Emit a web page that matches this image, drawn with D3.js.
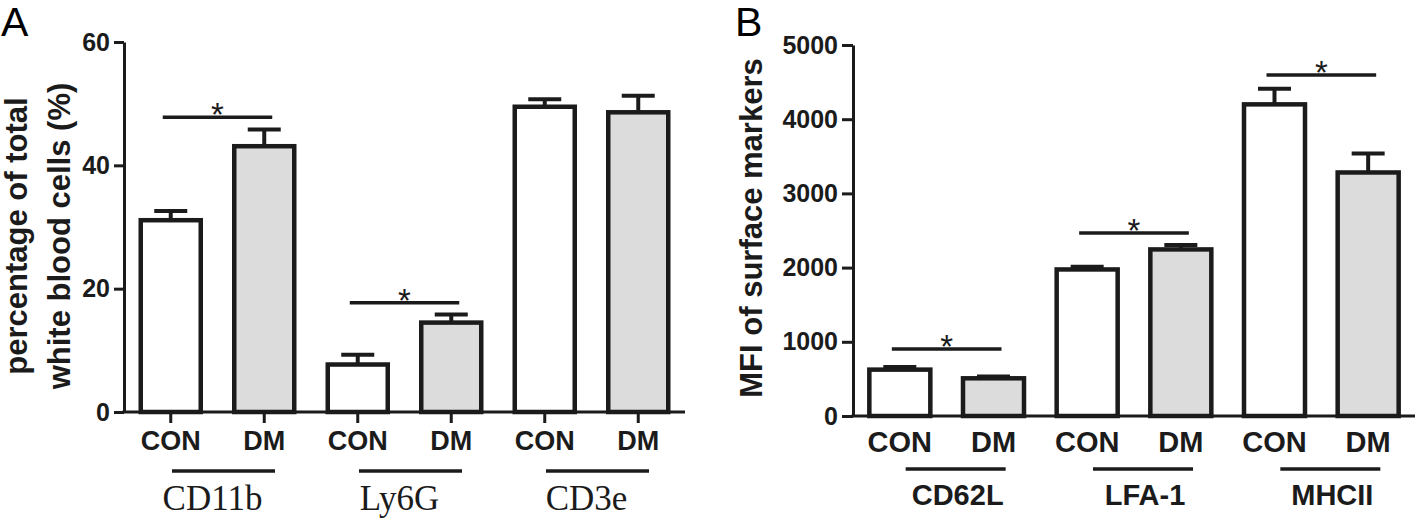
<!DOCTYPE html>
<html>
<head>
<meta charset="utf-8">
<script src="https://cdn.jsdelivr.net/npm/d3@7"></script>
<style>
  html, body { margin: 0; padding: 0; background: #ffffff; }
  svg { display: block; }
</style>
</head>
<body>
<svg id="chart" width="1418" height="520"></svg>
<script>
// ---------- DATA ----------
const conditions = ["CON", "DM"];

// Panel A: percentage of total white blood cells (%)
const groupsA = ["CD11b", "Ly6G", "CD3e"];
const conA = [31.1, 7.7, 49.5];
const conAErr = [1.5, 1.6, 1.2];
const dmA = [43.1, 14.5, 48.6];
const dmAErr = [2.7, 1.3, 2.7];
const ticksA = [0, 20, 40, 60];
const sigA = [ { group: "CD11b", y: 47.8 }, { group: "Ly6G", y: 17.7 } ];

// Panel B: MFI of surface markers
const groupsB = ["CD62L", "LFA-1", "MHCII"];
const conB = [625, 1975, 4200];
const conBErr = [35, 35, 210];
const dmB = [508, 2245, 3282];
const dmBErr = [25, 60, 256];
const ticksB = [0, 1000, 2000, 3000, 4000, 5000];
const sigB = [ { group: "CD62L", y: 903 }, { group: "LFA-1", y: 2466 }, { group: "MHCII", y: 4596 } ];

// ---------- DRAWING ----------
const svg = d3.select("#chart");
const ink = "#1b1b1b";
const sans = "'Liberation Sans', Arial, sans-serif";
const serif = "'Liberation Serif', 'Times New Roman', serif";

function panel(opt) {
  const g = svg.append("g");
  const y = d3.scaleLinear().domain(opt.yDomain).range([opt.y0, opt.yTop]);
  const gx = d3.scaleBand().domain(opt.groups).range([opt.x0, opt.x1]).paddingInner(0).paddingOuter(0);
  const cx = d3.scaleBand().domain(conditions).range([0, gx.bandwidth()]).paddingInner(0.358).paddingOuter(0.179);
  const center = (grp, c) => gx(grp) + cx(c) + cx.bandwidth() / 2;

  const rows = [];
  opt.groups.forEach((grp, i) => {
    rows.push({ grp, c: "CON", v: opt.con[i], e: opt.conErr[i] });
    rows.push({ grp, c: "DM", v: opt.dm[i], e: opt.dmErr[i] });
  });

  // error bars
  const eb = g.append("g").attr("stroke", ink).attr("stroke-width", 4).attr("fill", "none");
  rows.forEach(r => {
    const x = center(r.grp, r.c);
    eb.append("line").attr("x1", x).attr("x2", x).attr("y1", y(r.v)).attr("y2", y(r.v + r.e));
    eb.append("line").attr("x1", x - 16.5).attr("x2", x + 16.5).attr("y1", y(r.v + r.e)).attr("y2", y(r.v + r.e));
  });

  // bars
  g.append("g").selectAll("rect").data(rows).join("rect")
    .attr("x", d => center(d.grp, d.c) - opt.barW / 2)
    .attr("y", d => y(d.v))
    .attr("width", opt.barW)
    .attr("height", d => y(0) - y(d.v))
    .attr("fill", d => d.c === "DM" ? "#dcdcdc" : "#ffffff")
    .attr("stroke", ink)
    .attr("stroke-width", 4.5);

  // y axis
  const ya = g.append("g").attr("transform", `translate(${opt.x0},0)`)
    .call(d3.axisLeft(y).tickValues(opt.ticks).tickSize(opt.tickLen).tickSizeOuter(0).tickPadding(4).tickFormat(d3.format("d")));
  ya.select(".domain").attr("stroke", ink).attr("stroke-width", 3);
  ya.selectAll(".tick line").attr("stroke", ink).attr("stroke-width", 3);
  ya.selectAll(".tick text").attr("fill", ink).style("font-family", sans).style("font-weight", "bold").style("font-size", "25px");

  // x axis line
  g.append("line").attr("x1", opt.x0 - 1.5).attr("x2", opt.x1).attr("y1", y(0)).attr("y2", y(0))
    .attr("stroke", ink).attr("stroke-width", 3);

  // x ticks (panel A only)
  if (opt.xTicks) {
    g.append("g").selectAll("line").data(rows).join("line")
      .attr("x1", d => center(d.grp, d.c)).attr("x2", d => center(d.grp, d.c))
      .attr("y1", y(0)).attr("y2", y(0) + 11)
      .attr("stroke", ink).attr("stroke-width", 3);
  }

  // condition labels
  g.append("g").selectAll("text").data(rows).join("text")
    .attr("x", d => center(d.grp, d.c)).attr("y", opt.condY)
    .attr("text-anchor", "middle")
    .attr("fill", ink)
    .style("font-family", sans).style("font-weight", "bold").style("font-size", opt.condSize + "px")
    .text(d => d.c);

  // group underlines and labels
  opt.groups.forEach(grp => {
    const mid = gx(grp) + gx.bandwidth() / 2;
    g.append("line").attr("x1", mid + opt.ulShift - opt.ulW / 2).attr("x2", mid + opt.ulShift + opt.ulW / 2)
      .attr("y1", opt.ulY).attr("y2", opt.ulY).attr("stroke", ink).attr("stroke-width", 3.5);
    g.append("text").attr("x", mid + opt.glShift).attr("y", opt.glY).attr("text-anchor", "middle")
      .attr("fill", ink)
      .style("font-family", opt.glFont).style("font-weight", opt.glWeight).style("font-size", opt.glSize + "px")
      .text(grp);
  });

  // significance bars
  opt.sig.forEach(s => {
    const xa = center(s.group, "CON") - 8;
    const xb = center(s.group, "DM") + 8;
    g.append("line").attr("x1", xa).attr("x2", xb).attr("y1", y(s.y)).attr("y2", y(s.y))
      .attr("stroke", ink).attr("stroke-width", 3.5);
    g.append("text").attr("x", (xa + xb) / 2).attr("y", y(s.y) + 9).attr("text-anchor", "middle")
      .attr("fill", ink).style("font-family", sans).style("font-size", "33px").text("*");
  });

  // y label
  opt.ylLines.forEach((t, i) => {
    g.append("text").attr("text-anchor", "middle").attr("fill", ink)
      .attr("transform", `translate(${opt.ylX[i]},${opt.ylCenter}) rotate(-90)`)
      .style("font-family", sans).style("font-weight", "bold").style("font-size", opt.ylSize + "px")
      .text(t);
  });

  // panel letter
  g.append("text").attr("x", opt.letterX).attr("y", 36).attr("fill", "#000")
    .style("font-family", sans).style("font-size", "41px").text(opt.letter);
}

panel({
  letter: "A", letterX: 1,
  groups: groupsA, con: conA, conErr: conAErr, dm: dmA, dmErr: dmAErr,
  yDomain: [0, 60], y0: 412, yTop: 42, x0: 124, x1: 685, ticks: ticksA, tickLen: 10,
  barW: 60, xTicks: true,
  condY: 450, condSize: 27,
  ulY: 471, ulW: 103, ulShift: 6,
  glY: 510, glShift: -5, glFont: serif, glWeight: "normal", glSize: 35,
  sig: sigA,
  ylLines: ["percentage of total", "white blood cells (%)"], ylX: [27, 70], ylCenter: 236, ylSize: 31
});

panel({
  letter: "B", letterX: 735,
  groups: groupsB, con: conB, conErr: conBErr, dm: dmB, dmErr: dmBErr,
  yDomain: [0, 5000], y0: 416, yTop: 45, x0: 853, x1: 1415, ticks: ticksB, tickLen: 11,
  barW: 61, xTicks: false,
  condY: 452, condSize: 29,
  ulY: 469, ulW: 100, ulShift: 9,
  glY: 505, glShift: 11, glFont: sans, glWeight: "bold", glSize: 29,
  sig: sigB,
  ylLines: ["MFI of surface markers"], ylX: [762], ylCenter: 228, ylSize: 31
});
</script>
</body>
</html>
